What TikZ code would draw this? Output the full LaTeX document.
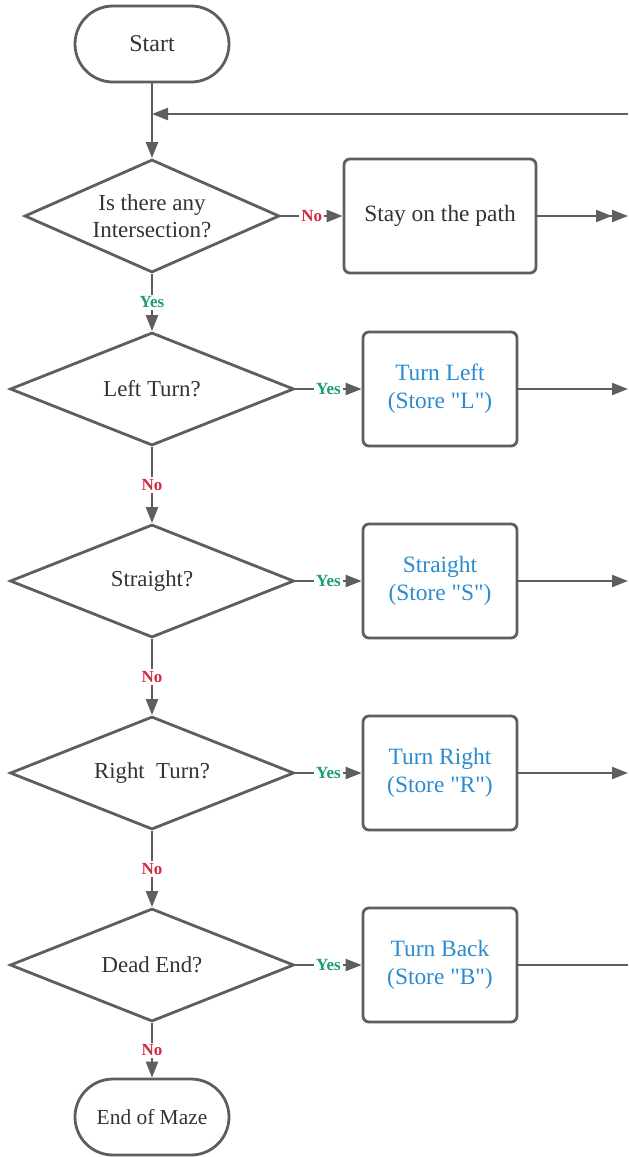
\documentclass[tikz,border=0pt]{standalone}
\usepackage{fontspec}
\setmainfont{Liberation Serif}[Ligatures=TeXOff]
\usetikzlibrary{shapes.geometric,arrows.meta,positioning}
\definecolor{linegray}{HTML}{5E5E5E}
\definecolor{textgray}{HTML}{333333}
\definecolor{storeblue}{HTML}{2A8BCF}
\definecolor{yesgreen}{HTML}{1A9E78}
\definecolor{nored}{HTML}{D42A3F}

\begin{document}
\begin{tikzpicture}[x=0.5pt, y=-0.5pt, node distance=96pt and 144pt, on grid,
  >={Triangle[length=8pt,width=6pt]},
  term/.style={draw=linegray, line width=1.4pt, rounded corners=19pt, minimum width=77pt, minimum height=38pt, text=textgray},
  decision/.style={diamond, draw=linegray, line width=1.4pt, aspect=2.5, inner sep=0pt, minimum width=142pt, minimum height=56.5pt, align=center, text=textgray, font=\fontsize{11.4}{13.5}\selectfont},
  proc/.style={rectangle, draw=linegray, line width=1.4pt, rounded corners=3pt, minimum width=77pt, minimum height=57pt, align=center, text=textgray, font=\fontsize{11.7}{14}\selectfont},
  store/.style={proc, text=storeblue},
  yes/.style={fill=white, inner sep=1pt, text=yesgreen, font=\bfseries\fontsize{8.5}{10}\selectfont},
  no/.style={yes, text=nored}]
\useasboundingbox (0,0) rectangle (628,1157);
\node [term, font=\fontsize{12}{14}\selectfont] (start) at (152,44) {Start};
\node [decision, minimum width=127.5pt, font=\fontsize{11.5}{13.5}\selectfont] (d1) [below=86pt of start] {Is there any\\Intersection?};
\node [proc, minimum width=96pt] (stay) [right=of d1] {Stay on the path};
\node [decision] (d2) [below=86.5pt of d1] {Left Turn?};
\node [store] (left) [right=of d2] {Turn Left\\(Store "L")};
\node [decision] (d3) [below=of d2] {Straight?};
\node [store] (straight) [right=of d3] {Straight\\(Store "S")};
\node [decision] (d4) [below=of d3] {Right\ \ Turn?};
\node [store] (right) [right=of d4] {Turn Right\\(Store "R")};
\node [decision] (d5) [below=of d4] {Dead End?};
\node [store] (back) [right=of d5] {Turn Back\\(Store "B")};
\node [term, font=\fontsize{10.7}{13}\selectfont] (end) [below=76pt of d5] {End of Maze};
\coordinate (loop) at (628,114);
\coordinate (rim) at (628,0);
\path [->, color=linegray, line width=1.1pt]
(start) edge (d1)
(loop) edge (loop -| d1)
(d1) edge node [no] {No} (stay)
edge node [yes] {Yes} (d2)
(stay) edge [-{Triangle[length=8pt,width=6pt]Triangle[length=8pt,width=6pt]}] (stay.east -| rim)
(d2) edge node [yes] {Yes} (left)
edge node [no] {No} (d3)
(left) edge (left.east -| rim)
(d3) edge node [yes] {Yes} (straight)
edge node [no] {No} (d4)
(straight) edge (straight.east -| rim)
(d4) edge node [yes] {Yes} (right)
edge node [no] {No} (d5)
(right) edge (right.east -| rim)
(d5) edge node [yes] {Yes} (back)
edge node [no] {No} (end)
(back) edge [-] (back.east -| rim);
\end{tikzpicture}
\end{document}
